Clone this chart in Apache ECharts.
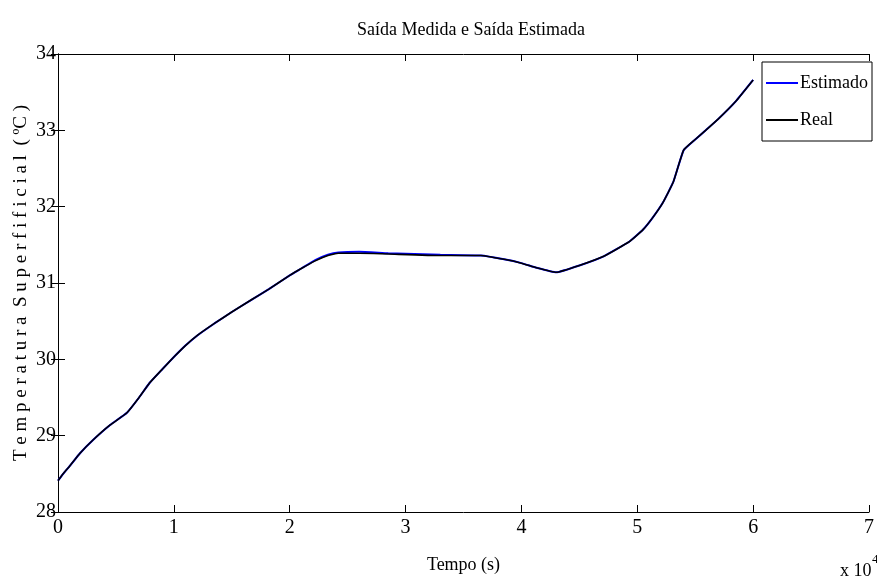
<!DOCTYPE html>
<html>
<head>
<meta charset="utf-8">
<script src="https://cdn.jsdelivr.net/npm/echarts@6/dist/echarts.min.js"></script>
<style>html,body{margin:0;padding:0;background:#fff;}#c{width:877px;height:583px;}</style>
</head>
<body>
<div id="c"></div>
<script>
// time in seconds
var tempo = [0, 500, 1000, 1900, 3000, 4500, 5950, 7000, 7900, 9000, 10000, 11000, 12000, 13500, 15000, 16800, 18200, 20000, 21000, 22200, 23300, 24200, 26000, 28500, 33000, 36500, 38500, 40000, 41300, 43000, 45000, 47100, 49300, 50500, 51300, 52200, 53100, 54000, 55000, 55900, 57000, 58500, 60000];
var real = [28.41, 28.51, 28.60, 28.77, 28.94, 29.14, 29.30, 29.50, 29.69, 29.87, 30.03, 30.18, 30.31, 30.47, 30.62, 30.79, 30.92, 31.10, 31.19, 31.29, 31.36, 31.39, 31.39, 31.38, 31.36, 31.36, 31.31, 31.26, 31.20, 31.14, 31.23, 31.35, 31.54, 31.70, 31.85, 32.05, 32.32, 32.74, 32.88, 33.00, 33.15, 33.38, 33.66];
var estimado = [28.41, 28.51, 28.60, 28.77, 28.94, 29.14, 29.30, 29.50, 29.69, 29.87, 30.03, 30.18, 30.31, 30.47, 30.62, 30.79, 30.92, 31.10, 31.19, 31.30, 31.37, 31.40, 31.41, 31.39, 31.37, 31.36, 31.31, 31.26, 31.20, 31.14, 31.23, 31.35, 31.54, 31.70, 31.85, 32.05, 32.32, 32.74, 32.88, 33.00, 33.15, 33.38, 33.66];
var xTicks = [0, 1, 2, 3, 4, 5, 6, 7];
var yTicks = [28, 29, 30, 31, 32, 33, 34];

var FONT = "'Liberation Serif', 'Times New Roman', serif";
function pairs(xs, ys) { return xs.map(function (x, i) { return [x, ys[i]]; }); }

var chart = echarts.init(document.getElementById('c'), null, { renderer: 'canvas' });
var axisCommon = {
  axisLine: { show: true, lineStyle: { color: '#000', width: 1 } },
  axisTick: { show: true, inside: true, length: 7, lineStyle: { color: '#000', width: 1 } },
  splitLine: { show: false }
};
chart.setOption({
  animation: false,
  backgroundColor: '#fff',
  title: {
    text: 'Saída Medida e Saída Estimada',
    left: 466, top: 16, textAlign: 'center',
    textStyle: { fontFamily: FONT, fontSize: 18, fontWeight: 'normal', color: '#000' }
  },
  grid: { left: 58, right: 2, top: 54, bottom: 71, containLabel: false },
  legend: {
    orient: 'vertical',
    right: 5, top: 62,
    backgroundColor: '#fff',
    borderColor: '#000', borderWidth: 1, borderRadius: 0,
    padding: [12, 4, 12, 4],
    itemWidth: 32, itemHeight: 2, itemGap: 19,
    icon: 'rect',
    textStyle: { fontFamily: FONT, fontSize: 18, color: '#000', padding: [0, 0, 0, -3], lineHeight: 18 },
    data: [{ name: 'Estimado' }, { name: 'Real' }]
  },
  xAxis: [
    Object.assign({}, axisCommon, {
      type: 'value', position: 'bottom', min: 0, max: 70000, interval: 10000,
      name: 'Tempo (s)', nameLocation: 'middle', nameGap: 44, nameMoveOverlap: false,
      nameTextStyle: { fontFamily: FONT, fontSize: 18, color: '#000' },
      axisLabel: {
        show: true, margin: 6, color: '#000', fontFamily: FONT, fontSize: 20,
        showMaxLabel: true, showMinLabel: true,
        formatter: function (v) { return String(xTicks[Math.round(v / 10000)]); }
      }
    }),
    Object.assign({}, axisCommon, {
      type: 'value', position: 'top', min: 0, max: 70000, interval: 10000,
      axisLabel: { show: false }
    })
  ],
  yAxis: [
    Object.assign({}, axisCommon, {
      type: 'value', position: 'left', min: 28, max: 34, interval: 1,
      name: 'T e m p e r a t u r a  S u p e r f i f i c i a l  ( ºC )',
      nameLocation: 'middle', nameGap: 27, nameRotate: 90, nameMoveOverlap: false,
      nameTextStyle: { fontFamily: FONT, fontSize: 19, color: '#000' },
      axisLabel: {
        show: true, margin: 2, color: '#000', fontFamily: FONT, fontSize: 20,
        formatter: function (v) { return String(yTicks[Math.round(v - 28)]); }
      }
    }),
    Object.assign({}, axisCommon, {
      type: 'value', position: 'right', min: 28, max: 34, interval: 1,
      axisLabel: { show: false }
    })
  ],
  graphic: [
    { type: 'text', left: 840, top: 562, style: { text: 'x 10', fontFamily: FONT, fontSize: 18, fill: '#000' } },
    { type: 'text', left: 872, top: 553, style: { text: '4', fontFamily: FONT, fontSize: 13, fill: '#000' } }
  ],
  series: [
    {
      name: 'Estimado', type: 'line', xAxisIndex: 0, yAxisIndex: 0,
      data: pairs(tempo, estimado), symbol: 'none', smooth: 0.12,
      lineStyle: { color: '#0000ff', width: 2 }, itemStyle: { color: '#0000ff' }, z: 2
    },
    {
      name: 'Real', type: 'line', xAxisIndex: 0, yAxisIndex: 0,
      data: pairs(tempo, real), symbol: 'none', smooth: 0.12,
      lineStyle: { color: '#000', width: 1.6 }, itemStyle: { color: '#000' }, z: 3
    }
  ]
});
</script>
</body>
</html>
